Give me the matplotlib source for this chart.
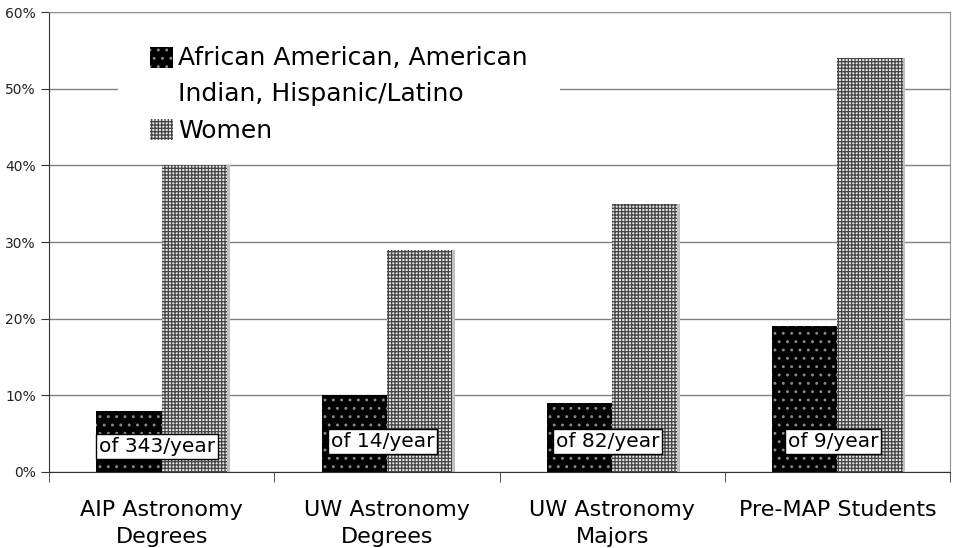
import numpy as np
import matplotlib.pyplot as plt
from matplotlib.patches import Patch, Rectangle
from matplotlib.legend_handler import HandlerPatch

# data
categories = ["AIP Astronomy\nDegrees", "UW Astronomy\nDegrees", "UW Astronomy\nMajors", "Pre-MAP Students"]
minority = [8, 10, 9, 19]
women = [40, 29, 35, 54]
counts = ["of 343/year", "of 14/year", "of 82/year", "of 9/year"]
series_names = ["African American, American\nIndian, Hispanic/Latino", "Women"]

plt.rcParams['font.family'] = ['DejaVu Sans']
plt.rcParams['hatch.linewidth'] = 0.9

fig = plt.figure(figsize=(9.56, 5.48), dpi=100)
ax = fig.add_axes([0.0513, 0.1387, 0.9424, 0.8393])

x = np.arange(len(categories))
w = 0.29

# black bars with faint dots, checkered grey bars for women
blk = dict(facecolor='black', edgecolor='#8a8a8a', hatch='..', linewidth=0)
wmn = dict(facecolor='#e6e6e6', edgecolor='#444444', hatch='+++++', linewidth=0)
ax.bar(x - w / 2, minority, w, zorder=3, **blk)
ax.bar(x + w / 2, women, w, zorder=3, **wmn)
# light shadow on right side of women bars
ax.bar(x + w + 0.006, women, 0.012, color='#c0c0c0', linewidth=0, zorder=2)

# count labels
for i, txt in enumerate(counts):
    yy = 3.3 if i == 0 else 4.0
    ax.text(x[i] - 0.02, yy, txt, ha='center', va='center', fontsize=14.5, zorder=5,
            bbox=dict(boxstyle='square,pad=0.15', facecolor='white', edgecolor='black', linewidth=1))

ax.set_xlim(-0.5, len(categories) - 0.5)
ax.set_ylim(0, 60)
ax.set_yticks(np.arange(0, 61, 10))
ax.set_yticklabels([f"{v}%" for v in range(0, 61, 10)], fontsize=10, color='#222222')
ax.yaxis.grid(True, color='#808080', linewidth=1, zorder=0)
ax.set_axisbelow(True)

# category labels centered, ticks on group boundaries
ax.set_xticks(x)
ax.set_xticklabels(categories, fontsize=16, linespacing=1.45)
ax.tick_params(axis='x', length=0, pad=20)
ax.set_xticks(np.arange(-0.5, len(categories) + 0.5, 1), minor=True)
ax.tick_params(axis='x', which='minor', length=7, color='#333333')
ax.tick_params(axis='y', length=6, color='#333333')

for s in ['top', 'right']:
    ax.spines[s].set_color('#909090')
for s in ['left', 'bottom']:
    ax.spines[s].set_color('#333333')

# white area behind the legend hides the 50% gridline
ax.add_patch(Rectangle((0.077, 0.70), 0.49, 0.27, transform=ax.transAxes,
                       facecolor='white', edgecolor='none', zorder=1))


# legend square of the two-line entry sits on its first line
def first_line_patch(legend, orig_handle, xdescent, ydescent, width, height, fontsize):
    return Rectangle((-xdescent, -ydescent + 0.76 * fontsize), width, height)


handles = [Patch(**blk), Patch(**wmn)]
leg = ax.legend(handles, series_names, loc='upper left', bbox_to_anchor=(0.104, 0.942),
                frameon=False, borderaxespad=0,
                handlelength=0.9, handleheight=0.9, handletextpad=0.2, labelspacing=0.55,
                borderpad=0.3, prop={'size': 18},
                handler_map={handles[0]: HandlerPatch(patch_func=first_line_patch)})
for t in leg.get_texts():
    t.set_linespacing(1.6)
leg.set_zorder(4)

fig.savefig('out.png', dpi=100)
